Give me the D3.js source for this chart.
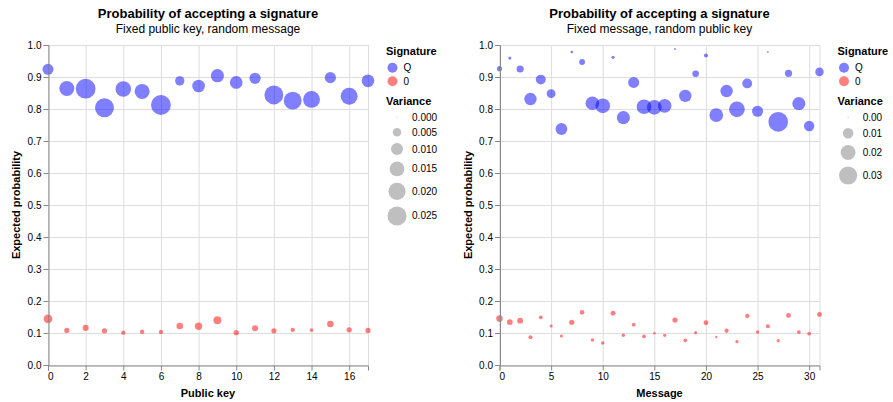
<!DOCTYPE html>
<meta charset="utf-8">
<script src="https://d3js.org/d3.v7.min.js"></script>
<style>
  body { margin: 0; background: white; }
  svg text { font-family: "Liberation Sans", Arial, sans-serif; fill: #000; }
</style>
<body>
<div id="chart"></div>
<script>

// left panel: fixed public key, random message
var keyIds = [0,1,2,3,4,5,6,7,8,9,10,11,12,13,14,15,16,17]
var keyQMean = [0.924,0.864,0.8635,0.804,0.8625,0.855,0.8125,0.888,0.872,0.904,0.883,0.896,0.844,0.826,0.830,0.898,0.840,0.888]
var keyQVar  = [0.0083,0.0154,0.027,0.0247,0.0168,0.0154,0.027,0.006,0.011,0.012,0.011,0.0087,0.0247,0.022,0.0197,0.0087,0.0197,0.011]
var key0Mean = [0.144,0.108,0.116,0.107,0.101,0.104,0.103,0.122,0.121,0.140,0.101,0.115,0.107,0.110,0.109,0.128,0.110,0.108]
var key0Var  = [0.0052,0.0019,0.0025,0.0019,0.0013,0.0013,0.0013,0.003,0.0037,0.0044,0.0019,0.0025,0.0019,0.0013,0.001,0.003,0.0019,0.0019]

// right panel: fixed message, random public key
var msgIds = [0,1,2,3,4,5,6,7,8,9,10,11,12,13,14,15,16,17,18,19,20,21,22,23,24,25,26,27,28,29,30,31]
var msgQMean = [0.926,0.959,0.925,0.831,0.892,0.848,0.7375,0.978,0.947,0.818,0.810,0.9615,0.773,0.883,0.807,0.805,0.810,0.9875,0.841,0.910,0.967,0.781,0.856,0.799,0.880,0.793,0.978,0.760,0.9115,0.817,0.747,0.916]
var msgQVar  = [0.0024,0.0009,0.0047,0.014,0.0088,0.0071,0.0126,0.0006,0.0031,0.017,0.0196,0.0009,0.0155,0.011,0.0196,0.0196,0.017,0.0003,0.014,0.0039,0.0015,0.017,0.014,0.0223,0.0088,0.011,0.0003,0.035,0.0047,0.0155,0.0099,0.0066]
var msg0Mean = [0.145,0.134,0.1385,0.0865,0.149,0.122,0.0906,0.1333,0.1646,0.078,0.0687,0.1615,0.0927,0.126,0.0896,0.099,0.0927,0.1406,0.077,0.101,0.132,0.0875,0.107,0.073,0.153,0.103,0.121,0.076,0.155,0.103,0.098,0.158]
var msg0Var  = [0.0039,0.0031,0.0031,0.0015,0.0013,0.0009,0.0009,0.0025,0.002,0.0011,0.0011,0.0022,0.0011,0.0013,0.0013,0.0006,0.0009,0.0025,0.0013,0.0009,0.0022,0.0005,0.0017,0.0009,0.0017,0.0011,0.0015,0.0009,0.0022,0.0013,0.0013,0.0022]

var signatures = ["Q", "0"]
var yTicks = [0,0.1,0.2,0.3,0.4,0.5,0.6,0.7,0.8,0.9,1.0]
var keyXTicks = [0,2,4,6,8,10,12,14,16]
var msgXTicks = [0,5,10,15,20,25,30]
var keyVarTicks = [0,0.005,0.01,0.015,0.02,0.025]
var msgVarTicks = [0,0.01,0.02,0.03]

var W = 893, H = 402
var svg = d3.select("#chart").append("svg").attr("width", W).attr("height", H)

var color = d3.scaleOrdinal().domain(signatures).range(["blue", "red"])

function panel(o) {
  var left = o.left, top = 45, w = 320, h = 320
  var g = svg.append("g").attr("transform", "translate(" + left + "," + top + ")")

  var x = d3.scaleLinear().domain([0, o.ids[o.ids.length - 1]]).range([0, w])
  var y = d3.scaleLinear().domain([0, 1]).range([h, 0])
  var size = d3.scaleLinear().domain([0, o.varMax]).range([0, o.areaMax])
  var r = function(v) { return Math.sqrt(Math.max(size(v), 1) / Math.PI) }

  // grid
  g.append("g").selectAll("line").data(o.xTicks).enter().append("line")
    .attr("x1", function(d) { return x(d) + 0.5 }).attr("x2", function(d) { return x(d) + 0.5 })
    .attr("y1", 0).attr("y2", h).attr("stroke", "#ddd")
  g.append("g").selectAll("line").data(yTicks).enter().append("line")
    .attr("y1", function(d) { return y(d) + 0.5 }).attr("y2", function(d) { return y(d) + 0.5 })
    .attr("x1", 0).attr("x2", w).attr("stroke", "#ddd")
  g.append("rect").attr("x", 0.5).attr("y", 0.5).attr("width", w).attr("height", h)
    .attr("fill", "none").attr("stroke", "#ddd")

  // points
  var pts = []
  o.ids.forEach(function(id, i) {
    pts.push({sig: "Q", x: id, m: o.qMean[i], v: o.qVar[i]})
    pts.push({sig: "0", x: id, m: o.zMean[i], v: o.zVar[i]})
  })
  g.append("g").selectAll("circle").data(pts).enter().append("circle")
    .attr("cx", function(d) { return x(d.x) })
    .attr("cy", function(d) { return y(d.m) })
    .attr("r", function(d) { return r(d.v) })
    .attr("fill", function(d) { return color(d.sig) })
    .attr("fill-opacity", 0.5)

  // axes
  var yAxis = g.append("g").attr("transform", "translate(0.5,0)")
    .call(d3.axisLeft(y).tickValues(yTicks).tickFormat(d3.format(".1f")).tickSize(5).tickPadding(2))
  var xAxis = g.append("g").attr("transform", "translate(0," + (h + 0.5) + ")")
    .call(d3.axisBottom(x).tickValues(o.xTicks).tickSize(5).tickPadding(2))
  ;[xAxis, yAxis].forEach(function(a) {
    a.select(".domain").attr("stroke", "#888")
    a.selectAll(".tick line").attr("stroke", "#888")
    a.selectAll(".tick text").attr("font-size", 10).attr("fill", "#000")
      .style("font-family", '"Liberation Sans", Arial, sans-serif')
  })
  xAxis.selectAll(".tick text").filter(function(d) { return d === 0 }).attr("text-anchor", "start").attr("dx", -0.5)

  g.append("text").attr("x", w / 2).attr("y", h + 32).attr("text-anchor", "middle")
    .attr("font-size", 11).attr("font-weight", "bold").text(o.xTitle)
  g.append("text").attr("transform", "translate(" + (-28) + "," + (h / 2) + ") rotate(-90)")
    .attr("text-anchor", "middle").attr("font-size", 11).attr("font-weight", "bold").text("Expected probability")

  // titles
  svg.append("text").attr("x", left + w / 2).attr("y", 17.5).attr("text-anchor", "middle")
    .attr("font-size", 13).attr("font-weight", "bold").text("Probability of accepting a signature")
  svg.append("text").attr("x", left + w / 2).attr("y", 32.5).attr("text-anchor", "middle")
    .attr("font-size", 12).text(o.subtitle)

  // legends
  var lx = left + w + 18
  var lg = svg.append("g").attr("transform", "translate(" + lx + ",0)")
  lg.append("text").attr("x", 0).attr("y", 54.5).attr("font-size", 11).attr("font-weight", "bold").text("Signature")
  var ce = lg.selectAll(".ce").data(signatures).enter().append("g")
    .attr("transform", function(d, i) { return "translate(0," + (67.7 + i * 13.6) + ")" })
  ce.append("circle").attr("cx", 6.5).attr("cy", 0).attr("r", 5)
    .attr("fill", function(d) { return color(d) }).attr("fill-opacity", 0.5)
  ce.append("text").attr("x", 17.5).attr("dy", "0.35em").attr("font-size", 10).text(function(d) { return d })

  lg.append("text").attr("x", 0).attr("y", 104.5).attr("font-size", 11).attr("font-weight", "bold").text("Variance")
  var maxR = r(o.varTicks[o.varTicks.length - 1])
  var yy = 117.3, prevH = null
  o.varTicks.forEach(function(v) {
    var hh = Math.max(2 * r(v) + 1.5, 10)
    if (prevH !== null) yy += prevH / 2 + hh / 2 + 5
    prevH = hh
    lg.append("circle").attr("cx", maxR + 1.5).attr("cy", yy).attr("r", r(v))
      .attr("fill", "#000").attr("fill-opacity", 0.25)
    lg.append("text").attr("x", 2 * maxR + 7).attr("y", yy).attr("dy", "0.35em")
      .attr("font-size", 10).text(d3.format(o.varFmt)(v))
  })
}

panel({left: 48, ids: keyIds, qMean: keyQMean, qVar: keyQVar, zMean: key0Mean, zVar: key0Var,
  xTicks: keyXTicks, varTicks: keyVarTicks, varMax: 0.025, areaMax: 285, varFmt: ".3f",
  xTitle: "Public key", subtitle: "Fixed public key, random message"})

panel({left: 499.5, ids: msgIds, qMean: msgQMean, qVar: msgQVar, zMean: msg0Mean, zVar: msg0Var,
  xTicks: msgXTicks, varTicks: msgVarTicks, varMax: 0.03, areaMax: 260, varFmt: ".2f",
  xTitle: "Message", subtitle: "Fixed message, random public key"})

</script>
</body>
